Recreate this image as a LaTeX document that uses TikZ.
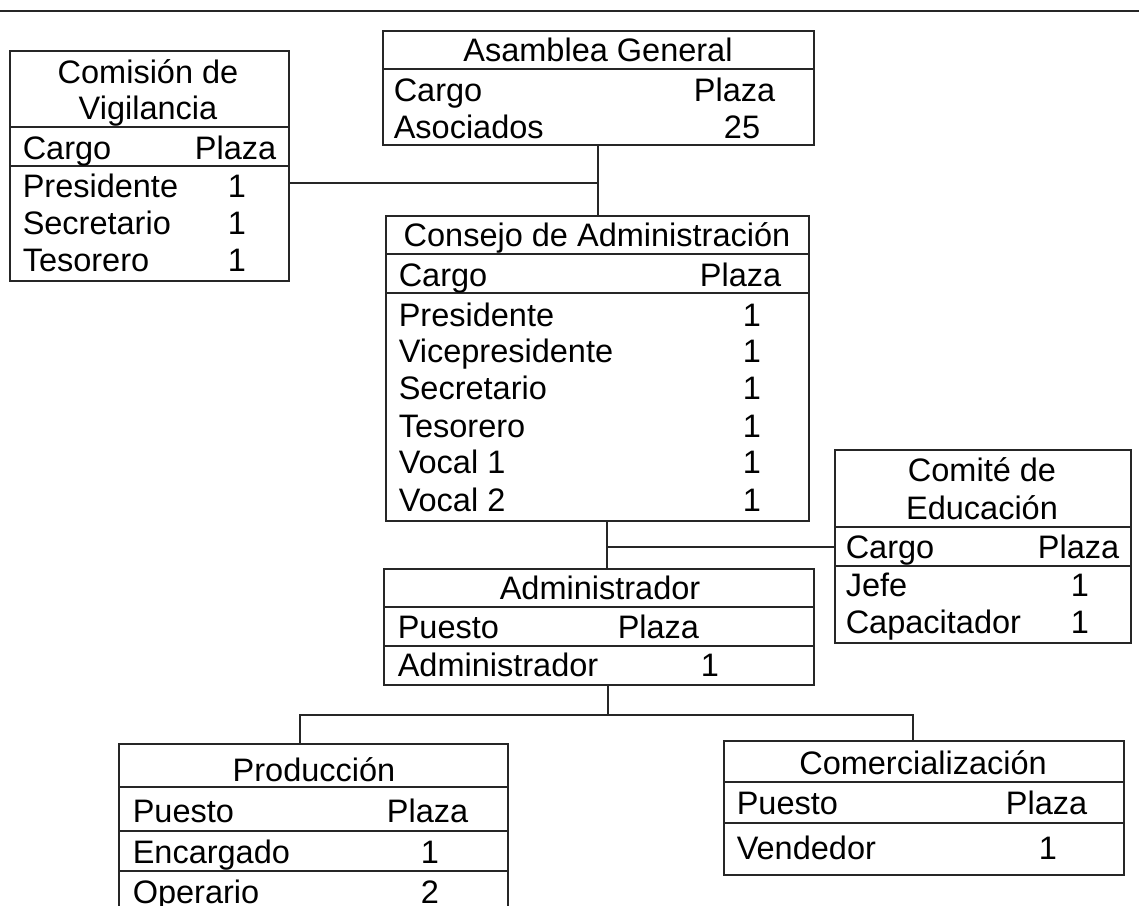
\documentclass[tikz,border=0pt]{standalone}
\usepackage{fontspec}
\setmainfont{Liberation Sans}
\begin{document}
\begin{tikzpicture}[x=1pt,y=-1pt,
  line width=1.5pt, draw=black!85,
  box/.style={draw, rectangle, inner sep=0pt, anchor=north west},
  txt/.style={inner sep=0pt, text height=23pt, text depth=0pt, font=\fontsize{32.5}{38}\selectfont, text=black},
  lt/.style={txt, anchor=west},
  rt/.style={txt, anchor=east},
  ct/.style={txt, anchor=center}]
\useasboundingbox (0,0) rectangle (1139,905);
\clip (0,0) rectangle (1139,905);
\fill[white] (0,0) rectangle (1139,905);

% top rule
\coordinate (ruleL) at (0,11);
\coordinate (ruleR) at (1139,11);
\draw (ruleL) -- (ruleR);

% ---------- Comisión de Vigilancia ----------
\node[box, minimum width=279pt, minimum height=230pt] (vig) at (9,50) {};
\draw (vig.west |- 0,127) -- (vig.east |- 0,127);
\draw (vig.west |- 0,166) -- (vig.east |- 0,166);
\node[ct] (vigT1) at (148,72) {Comisión de};
\node[ct] (vigT2) at (148,108) {Vigilancia};
\node[lt] (vigC) at (22,148) {Cargo};
\node[rt] (vigP) at (277,148) {Plaza};
\node[lt] (vigR1) at (22,186) {Presidente};
\node[lt] (vigR2) at (22,223) {Secretario};
\node[lt] (vigR3) at (22,260) {Tesorero};
\node[ct] (vigN1) at (237,186) {1};
\node[ct] (vigN2) at (237,223) {1};
\node[ct] (vigN3) at (237,260) {1};

% ---------- Asamblea General ----------
\node[box, minimum width=431pt, minimum height=114pt] (asam) at (382,30) {};
\draw (asam.west |- 0,69) -- (asam.east |- 0,69);
\node[ct] (asamT) at (598,50) {Asamblea General};
\node[lt] (asamC) at (393,90) {Cargo};
\node[rt] (asamP) at (776,90) {Plaza};
\node[lt] (asamR1) at (393,127) {Asociados};
\node[ct] (asamN1) at (742,127) {25};

% ---------- Consejo de Administración ----------
\node[box, minimum width=423pt, minimum height=305pt] (cons) at (385,215) {};
\draw (cons.west |- 0,254) -- (cons.east |- 0,254);
\draw (cons.west |- 0,293) -- (cons.east |- 0,293);
\node[ct] (consT) at (597,235) {Consejo de Administración};
\node[lt] (consC) at (398,275) {Cargo};
\node[rt] (consP) at (782,275) {Plaza};
\foreach \lab/\yy [count=\i] in {Presidente/315,Vicepresidente/351,Secretario/388,Tesorero/426,Vocal 1/462,Vocal 2/500}{
  \node[lt] (consR\i) at (398,\yy) {\lab};
  \node[ct] (consN\i) at (752,\yy) {1};
}

% ---------- Comité de Educación ----------
\node[box, minimum width=296pt, minimum height=193pt] (comi) at (834,449) {};
\draw (comi.west |- 0,527) -- (comi.east |- 0,527);
\draw (comi.west |- 0,566) -- (comi.east |- 0,566);
\node[ct] (comiT1) at (982,470) {Comité de};
\node[ct] (comiT2) at (982,508) {Educación};
\node[lt] (comiC) at (845,547) {Cargo};
\node[rt] (comiP) at (1120,547) {Plaza};
\node[lt] (comiR1) at (845,585) {Jefe};
\node[lt] (comiR2) at (845,622) {Capacitador};
\node[ct] (comiN1) at (1080,585) {1};
\node[ct] (comiN2) at (1080,622) {1};

% ---------- Administrador ----------
\node[box, minimum width=430pt, minimum height=116pt] (admi) at (383,568) {};
\draw (admi.west |- 0,607) -- (admi.east |- 0,607);
\draw (admi.west |- 0,646) -- (admi.east |- 0,646);
\node[ct] (admiT) at (600,588) {Administrador};
\node[lt] (admiC) at (397,627) {Puesto};
\node[lt] (admiP) at (617,627) {Plaza};
\node[lt] (admiR1) at (397,665) {Administrador};
\node[ct] (admiN1) at (710,665) {1};

% ---------- Producción ----------
\node[box, minimum width=389pt, minimum height=190pt] (prod) at (118,743) {};
\draw (prod.west |- 0,787) -- (prod.east |- 0,787);
\draw (prod.west |- 0,831) -- (prod.east |- 0,831);
\draw (prod.west |- 0,871) -- (prod.east |- 0,871);
\node[ct] (prodT) at (314,770) {Producción};
\node[lt] (prodC) at (132,811) {Puesto};
\node[rt] (prodP) at (469,811) {Plaza};
\node[lt] (prodR1) at (132,852) {Encargado};
\node[ct] (prodN1) at (430,852) {1};
\node[lt] (prodR2) at (132,892) {Operario};
\node[ct] (prodN2) at (430,892) {2};

% ---------- Comercialización ----------
\node[box, minimum width=400pt, minimum height=134pt] (come) at (723,740) {};
\draw (come.west |- 0,782) -- (come.east |- 0,782);
\draw (come.west |- 0,823) -- (come.east |- 0,823);
\node[ct] (comeT) at (923,763) {Comercialización};
\node[lt] (comeC) at (736,803) {Puesto};
\node[rt] (comeP) at (1088,803) {Plaza};
\node[lt] (comeR1) at (736,848) {Vendedor};
\node[ct] (comeN1) at (1048,848) {1};

% ---------- connectors ----------
\coordinate (j1) at (598,183);
\draw (asam.south -| j1) -- (cons.north -| j1);
\draw (vig.east |- j1) -- (j1);

\coordinate (j2) at (607,547);
\draw (cons.south -| j2) -- (admi.north -| j2);
\draw (j2) -- (comi.west |- j2);

\coordinate (j3) at (608,715);
\coordinate (jL) at (300,715);
\coordinate (jR) at (913,715);
\draw (admi.south -| j3) -- (j3);
\draw (prod.north -| jL) -- (jL) -- (jR) -- (come.north -| jR);
\end{tikzpicture}
\end{document}
